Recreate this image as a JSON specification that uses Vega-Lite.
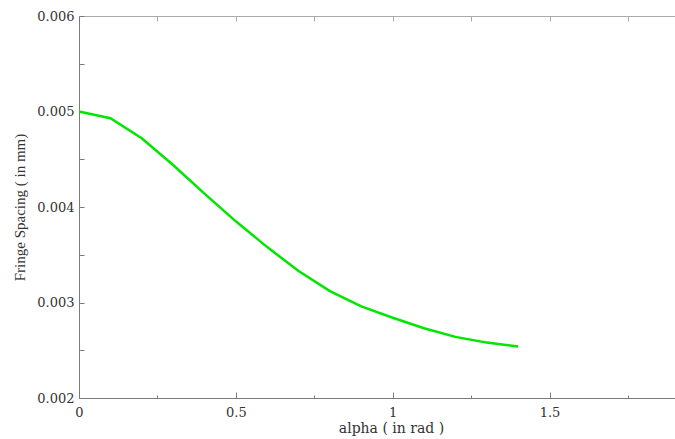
{
  "$schema": "https://vega.github.io/schema/vega-lite/v6.json",
  "width": 596,
  "height": 382,
  "autosize": "none",
  "padding": {"left": 79, "top": 16, "right": 0, "bottom": 41},
  "background": "white",
  "config": {
    "view": {"stroke": null},
    "axis": {
      "grid": false,
      "labelFont": "DejaVu Serif",
      "titleFont": "DejaVu Serif",
      "titleFontWeight": "normal",
      "domainColor": "#7a7a7a",
      "tickColor": "#7a7a7a",
      "labelColor": "#333333",
      "titleColor": "#333333",
      "labelFlush": false
    }
  },
  "data": {
    "values": [
      {"alpha": 0.0, "spacing": 0.00500},
      {"alpha": 0.1, "spacing": 0.00493},
      {"alpha": 0.2, "spacing": 0.00472},
      {"alpha": 0.3, "spacing": 0.00444},
      {"alpha": 0.4, "spacing": 0.00414},
      {"alpha": 0.5, "spacing": 0.00385},
      {"alpha": 0.6, "spacing": 0.00358},
      {"alpha": 0.7, "spacing": 0.00333},
      {"alpha": 0.8, "spacing": 0.00312},
      {"alpha": 0.9, "spacing": 0.00296},
      {"alpha": 1.0, "spacing": 0.00284},
      {"alpha": 1.1, "spacing": 0.00273},
      {"alpha": 1.2, "spacing": 0.00264},
      {"alpha": 1.3, "spacing": 0.00258},
      {"alpha": 1.4, "spacing": 0.00254}
    ]
  },
  "layer": [
    {
      "mark": {"type": "line", "color": "#00e600", "strokeWidth": 2.5},
      "encoding": {
        "x": {
          "field": "alpha", "type": "quantitative",
          "scale": {"domain": [0, 1.9], "nice": false, "zero": false},
          "axis": {
            "orient": "bottom", "values": [0, 0.5, 1, 1.5], "format": "~g",
            "tickSize": -6, "labelPadding": 14, "labelFontSize": 13,
            "title": "alpha ( in rad )", "titleFontSize": 14,
            "titleX": 312, "titleY": 34, "titleBaseline": "alphabetic"
          }
        },
        "y": {
          "field": "spacing", "type": "quantitative",
          "scale": {"domain": [0.002, 0.006], "nice": false, "zero": false},
          "axis": {
            "orient": "left",
            "values": [0.002, 0.0025, 0.003, 0.0035, 0.004, 0.0045, 0.005, 0.0055, 0.006],
            "labelExpr": "abs(datum.value * 1000 - round(datum.value * 1000)) < 0.01 ? format(datum.value, '.3f') : ''",
            "labelOverlap": false,
            "tickSize": -5, "labelPadding": 10, "labelFontSize": 13,
            "title": "Fringe Spacing ( in mm)", "titleFont": "Liberation Serif", "titleFontSize": 15,
            "titleX": -52, "titleBaseline": "bottom"
          }
        }
      }
    },
    {
      "mark": {"type": "line", "opacity": 0},
      "encoding": {
        "x": {
          "field": "alpha", "type": "quantitative",
          "scale": {"domain": [0, 1.9], "nice": false, "zero": false},
          "axis": {"orient": "top", "values": [0.25, 0.5, 0.75, 1, 1.25, 1.5, 1.75], "labels": false, "tickSize": -5, "title": null, "domainColor": "#aaaaaa", "tickColor": "#aaaaaa"}
        },
        "y": {
          "field": "spacing", "type": "quantitative",
          "scale": {"domain": [0.002, 0.006], "nice": false, "zero": false}
        }
      }
    },
    {
      "mark": {"type": "line", "opacity": 0},
      "encoding": {
        "x": {
          "field": "alpha", "type": "quantitative",
          "scale": {"domain": [0, 1.9], "nice": false, "zero": false},
          "axis": {"orient": "bottom", "values": [0.25, 0.75, 1.25, 1.75], "labels": false, "domain": false, "tickSize": -3, "title": null}
        },
        "y": {
          "field": "spacing", "type": "quantitative",
          "scale": {"domain": [0.002, 0.006], "nice": false, "zero": false}
        }
      }
    }
  ],
  "resolve": {"axis": {"x": "independent"}}
}
